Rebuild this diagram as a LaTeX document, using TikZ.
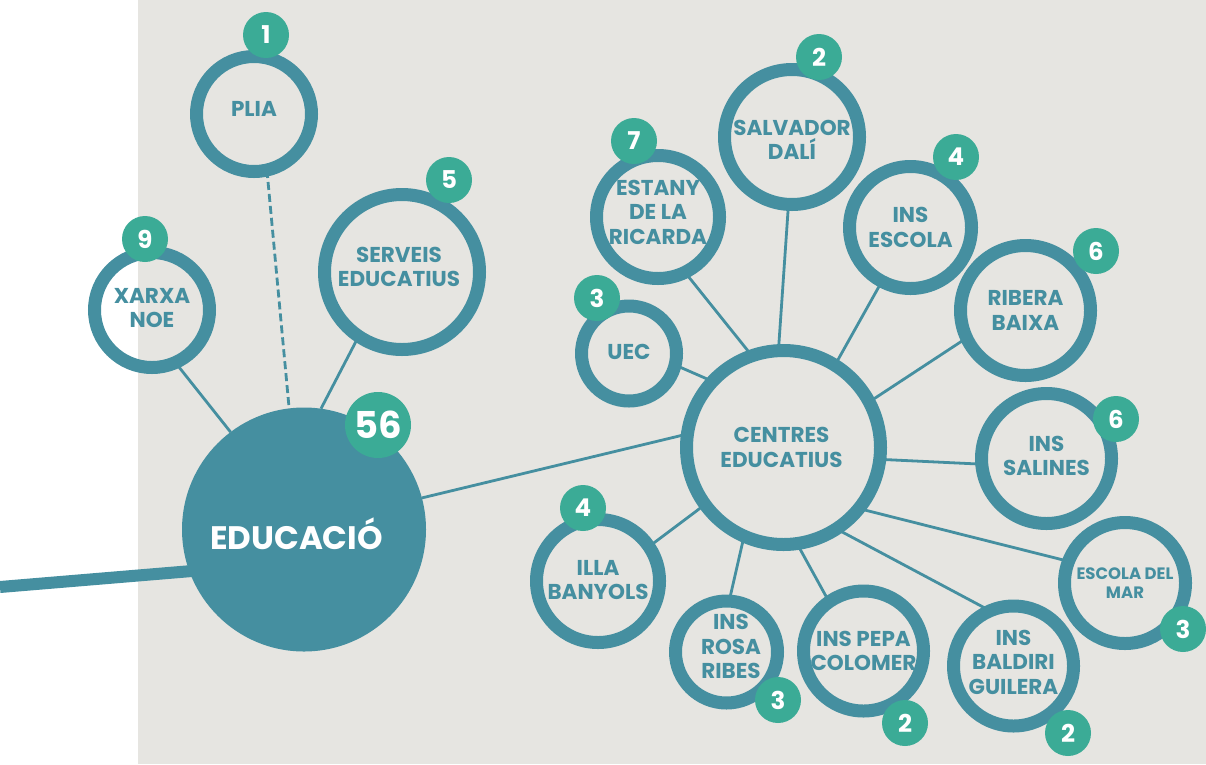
\documentclass[tikz,border=0pt]{standalone}
\usepackage{fontspec}
\setmainfont{Poppins}[BoldFont={Poppins Bold}]
\usetikzlibrary{calc}
\definecolor{ringc}{HTML}{458FA0}
\definecolor{badgec}{HTML}{3BAB96}
\definecolor{bgc}{HTML}{E6E5E1}
\newcommand\labfnt{\bfseries\fontsize{21.5}{24.5}\selectfont}
\newcommand\smallfnt{\bfseries\fontsize{16.5}{18.5}\selectfont}
\newcommand\badgefnt{\bfseries\fontsize{24.5}{24.5}\selectfont}
\pgfdeclarelayer{back}
\pgfdeclarelayer{bg}
\pgfsetlayers{back,bg,main}
\begin{document}
\begin{tikzpicture}[x=1pt,y=-1pt,
  ring/.style={circle, draw=ringc, line width=13pt, inner sep=0pt, outer sep=0pt},
  lbl/.style={text=ringc, font=\labfnt, align=center, inner sep=0pt},
  hub/.style={circle, fill=ringc, inner sep=0pt, outer sep=0pt, minimum size=244pt},
  hublbl/.style={text=white, inner sep=0pt, font=\bfseries\fontsize{32.5}{32.5}\selectfont},
  badge/.style={circle, fill=badgec, inner sep=0pt, outer sep=0pt, minimum size=46pt, text=white, font=\badgefnt},
  bigbadge/.style={badge, minimum size=66pt, font=\bfseries\fontsize{37}{37}\selectfont},
  conn/.style={draw=ringc, line width=2.8pt},
  dashconn/.style={conn, dash pattern=on 8pt off 4pt},
  trunk/.style={draw=ringc, line width=12pt}]
\begin{pgfonlayer}{back}
\fill[white] (0,0) rectangle (1206,764);
\fill[bgc] (138,0) rectangle (1206,764);
\end{pgfonlayer}
\useasboundingbox (0,0) rectangle (1206,764);

% main hub
\node[hub, label={[hublbl, xshift=-7.5pt, yshift=-4.5pt]center:EDUCACIÓ}] (edu) at (304,529.5) {};
% left group
\node[ring, minimum size=115pt, label={[lbl, yshift=5pt]center:PLIA}] (plia) at (254,114) {};
\node[ring, minimum size=155pt, label={[lbl, xshift=-3pt, yshift=5pt]center:{SERVEIS\\EDUCATIUS}}] (serveis) at (402,272) {};
\node[ring, minimum size=115pt, label={[lbl, yshift=2pt]center:{XARXA\\NOE}}] (xarxa) at (152,310) {};
% centres
\node[ring, minimum size=194pt, label={[lbl, xshift=-2pt]center:{CENTRES\\EDUCATIUS}}] (centres) at (783.5,447.5) {};
\node[ring, minimum size=135pt, label={[lbl, yshift=-3pt]center:{SALVADOR\\DALÍ}}] (salvador) at (792,137) {};
\node[ring, minimum size=123pt, label={[lbl, yshift=5pt]center:{ESTANY\\DE LA\\RICARDA}}] (estany) at (658,217) {};
\node[ring, minimum size=95pt, label={[lbl, yshift=2pt]center:UEC}] (uec) at (629,353.5) {};
\node[ring, minimum size=122pt, label={[lbl]center:{INS\\ESCOLA}}] (escola) at (910.5,227.5) {};
\node[ring, minimum size=130pt, label={[lbl]center:{RIBERA\\BAIXA}}] (ribera) at (1025.5,310.5) {};
\node[ring, minimum size=130pt, label={[lbl, yshift=2.5pt]center:{INS\\SALINES}}] (salines) at (1046.5,458.5) {};
\node[ring, minimum size=121pt, label={[lbl, font=\smallfnt]center:{ESCOLA DEL\\MAR}}] (mar) at (1125,583) {};
\node[ring, minimum size=120pt, label={[lbl, yshift=4pt]center:{INS\\BALDIRI\\GUILERA}}] (baldiri) at (1013.5,666) {};
\node[ring, minimum size=120pt, label={[lbl]center:{INS PEPA\\COLOMER}}] (pepa) at (863.5,651) {};
\node[ring, minimum size=102pt, label={[lbl, xshift=4.5pt, yshift=5.5pt]center:{INS\\ROSA\\RIBES}}] (rosa) at (726.5,652) {};
\node[ring, minimum size=123pt, label={[lbl, yshift=1pt]center:{ILLA\\BANYOLS}}] (illa) at (598,581) {};

% connectors
\begin{pgfonlayer}{bg}
\coordinate (start) at (0,587);
\draw[trunk] (start) -- ($(start)!1.1!(edu.200)$);
\draw[conn] (xarxa.-66) -- (edu.127);
\draw[dashconn] (plia.-77) -- (edu.97);
\draw[conn] (serveis.-124) -- (edu.82);
\draw[conn] (edu.15) -- (centres.172.5);
\draw[conn] (uec.-14) -- (centres.137);
\draw[conn] (estany.-64) -- (centres.109);
\draw[conn] (salvador.-93) -- (centres.93);
\draw[conn] (escola.-118) -- (centres.58);
\draw[conn] (ribera.-155) -- (centres.28);
\draw[conn] (salines.-175) -- (centres.-7);
\draw[conn] (mar.159) -- (centres.-39);
\draw[conn] (baldiri.113) -- (centres.-57);
\draw[conn] (pepa.125.5) -- (centres.-82);
\draw[conn] (rosa.87.6) -- (centres.-114);
\draw[conn] (illa.34) -- (centres.-144);
\end{pgfonlayer}

% badges
\node[bigbadge] (b56) at (378,425) {56};
\node[badge] (b1) at (266,35) {1};
\node[badge] (b5) at (449,180) {5};
\node[badge] (b9) at (145,239) {9};
\node[badge] (b2a) at (819,57) {2};
\node[badge] (b7) at (634,141) {7};
\node[badge] (b3a) at (597,298) {3};
\node[badge] (b4a) at (956,157) {4};
\node[badge] (b6a) at (1096,251) {6};
\node[badge] (b6b) at (1116,419) {6};
\node[badge] (b3b) at (1183,629) {3};
\node[badge] (b2b) at (1068,733) {2};
\node[badge] (b2c) at (905,723) {2};
\node[badge] (b3c) at (778,700) {3};
\node[badge] (b4b) at (583,508) {4};
\end{tikzpicture}
\end{document}
